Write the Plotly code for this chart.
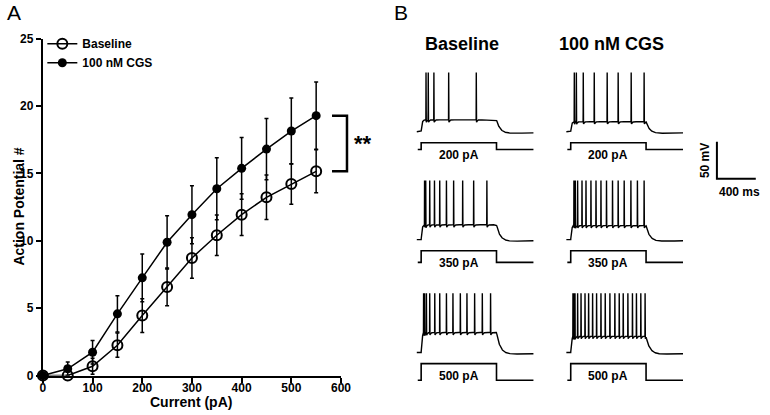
import numpy as np
import plotly.graph_objects as go

W, H = 770, 415

# ---------------- Panel A data ----------------
current_pA = [0, 50, 100, 150, 200, 250, 300, 350, 400, 450, 500, 550]
baseline_ap = [0, 0, 0.69, 2.25, 4.45, 6.58, 8.73, 10.41, 11.94, 13.23, 14.22, 15.16]
baseline_sem = [0, 0, 0.6, 0.9, 1.25, 1.4, 1.5, 1.5, 1.55, 1.65, 1.5, 1.6]
cgs_ap = [0, 0.5, 1.73, 4.58, 7.25, 9.89, 11.94, 13.87, 15.38, 16.81, 18.15, 19.29]
cgs_sem = [0, 0.5, 0.87, 1.35, 1.78, 1.98, 2.15, 2.3, 2.3, 2.28, 2.45, 2.5]
series_names = ["Baseline", "100 nM CGS"]
x_ticks = [0, 100, 200, 300, 400, 500, 600]
y_ticks = [0, 5, 10, 15, 20, 25]

# ---------------- Panel B data ----------------
column_titles = ["Baseline", "100 nM CGS"]
step_labels = ["200 pA", "350 pA", "500 pA"]
step_pA = [200, 350, 500]
spikes_baseline_ms = [
    [95, 118, 176, 328, 612],
    [80, 92, 133, 182, 236, 305, 379, 472, 585, 721],
    [70, 80, 99, 133, 185, 236, 305, 372, 448, 516, 595, 674, 759],
]
spikes_cgs_ms = [
    [82, 103, 174, 287, 420, 533, 667, 800],
    [78, 92, 116, 161, 202, 253, 305, 356, 413, 475, 533, 595, 664, 731, 800],
    [68, 78, 89, 116, 151, 192, 229, 270, 311, 356, 400, 448, 499, 544, 585,
     633, 680, 721, 766, 810],
]
plateau_baseline_mV = [16, 20, 27]
plateau_cgs_mV = [13.5, 19, 22]
scale_mV = 50
scale_ms = 400

# ---------------- geometry (target pixel positions) ----------------
SX, OX = 0.986, 2.0
SY, OY = 0.967, 6.2


def X(p):   # target pixel column -> layout pixel column
    return (p - OX) / SX


def Y(p):   # target pixel row -> layout pixel row
    return (p - OY) / SY


def px(p):
    return X(p) / W


def py(p):
    return 1 - Y(p) / H


A_X0, A_X1 = 42, 341        # pixel columns of x=0 and x=600
A_Y0, A_Y1 = 375, 38        # pixel rows of y=0 and y=25
K = 400 / 39.0              # ms per pixel in panel B
MVPX = 1.35                 # mV per pixel in panel B
REST = -70.0
T_ON, T_OFF, T_END = 45, 820, 1200
COL_OFF = 150 * K
ROW_OFF = [0, -108 * MVPX, -221 * MVPX]
B_X_START = 417             # pixel column of t=0 of first column
B_Y_REST = 131              # pixel row of rest potential of first row


def ypx_a(v):
    return A_Y0 - v / 25.0 * (A_Y0 - A_Y1)


FONT = "Liberation Sans"
fig = go.Figure()

fig.add_trace(go.Scatter(
    x=current_pA, y=cgs_ap, name=series_names[1], mode="lines+markers",
    line=dict(color="black", width=1.5),
    marker=dict(symbol="circle", size=9, color="black"),
    error_y=dict(type="data", array=cgs_sem, color="black", thickness=1.5, width=2),
    cliponaxis=False, xaxis="x", yaxis="y"))
fig.add_trace(go.Scatter(
    x=current_pA, y=baseline_ap, name=series_names[0], mode="lines+markers",
    line=dict(color="black", width=1.5),
    marker=dict(symbol="circle-open", size=10, color="black", line=dict(width=2)),
    error_y=dict(type="data", array=baseline_sem, color="black", thickness=1.5, width=2),
    cliponaxis=False, xaxis="x", yaxis="y"))

# ---------------- Panel B traces ----------------
t = np.arange(0, T_END + 0.5, 0.5)


def voltage(spikes, plateau):
    v = np.full_like(t, REST, dtype=float)
    m = (t >= T_ON) & (t < T_OFF)
    v[m] = REST + plateau * (1 - np.exp(-(t[m] - T_ON) / 8.0))
    v_off = REST + plateau
    a = t >= T_OFF
    d = t[a] - T_OFF
    v[a] = REST + (v_off - REST) * np.exp(-d / 40.0) - 3 * (1 - np.exp(-d / 30.0)) * np.exp(-d / 600.0)
    for ts in spikes:
        base = np.interp(ts, t, v)
        v = v + (REST + 80 - base) * np.exp(-((t - ts) / 0.8) ** 2)
        dd = np.clip(t - ts, 0, None)
        v = v - np.where(t > ts, 5 * (1 - np.exp(-dd / 1.0)) * np.exp(-dd / 7.0), 0)
    return v


for col, (spk_set, plat_set) in enumerate([(spikes_baseline_ms, plateau_baseline_mV),
                                           (spikes_cgs_ms, plateau_cgs_mV)]):
    for row in range(3):
        xo = col * COL_OFF
        yo = ROW_OFF[row]
        v = voltage(spk_set[row], plat_set[row])
        fig.add_trace(go.Scatter(x=t + xo, y=v + yo, mode="lines",
                                 line=dict(color="black", width=1.4),
                                 showlegend=False, hoverinfo="skip",
                                 xaxis="x2", yaxis="y2"))
        hi = REST - 15
        lo = hi - step_pA[row] * 0.045
        tc = np.array([10, T_ON, T_ON, T_OFF, T_OFF, T_END])
        ic = np.array([lo, lo, hi, hi, lo, lo])
        fig.add_trace(go.Scatter(x=tc + xo, y=ic + yo, mode="lines",
                                 line=dict(color="black", width=1.6),
                                 showlegend=False, hoverinfo="skip",
                                 xaxis="x2", yaxis="y2"))
        fig.add_annotation(x=xo + (T_ON + T_OFF) / 2, y=yo + REST - 32,
                           xref="x2", yref="y2", text=step_labels[row], showarrow=False,
                           font=dict(family=FONT, size=12, color="black", weight="bold"))

# scale bar
sx = (718 - B_X_START) * K
sy = REST - (178 - B_Y_REST) * MVPX
fig.add_trace(go.Scatter(x=[sx, sx, sx + scale_ms], y=[sy + scale_mV, sy, sy], mode="lines",
                         line=dict(color="black", width=2), showlegend=False, hoverinfo="skip",
                         xaxis="x2", yaxis="y2"))
fig.add_annotation(x=sx - 12 * K, y=sy + scale_mV / 2, xref="x2", yref="y2",
                   text=f"{scale_mV} mV", textangle=-90, showarrow=False,
                   font=dict(family=FONT, size=12, color="black", weight="bold"))
fig.add_annotation(x=sx + 23 * K, y=sy - 13 * MVPX, xref="x2", yref="y2",
                   text=f"{scale_ms} ms", showarrow=False,
                   font=dict(family=FONT, size=12, color="black", weight="bold"))

# column titles
for cx, title in zip([462, 612], column_titles):
    fig.add_annotation(x=px(cx), y=py(43), xref="paper", yref="paper", text=title,
                       showarrow=False, xanchor="center", yanchor="middle",
                       font=dict(family=FONT, size=18, color="black", weight="bold"))

# panel letters
fig.add_annotation(x=px(4), y=py(12), xref="paper", yref="paper", text="A", showarrow=False,
                   xanchor="left", yanchor="middle", font=dict(family=FONT, size=21, color="black"))
fig.add_annotation(x=px(392), y=py(12), xref="paper", yref="paper", text="B", showarrow=False,
                   xanchor="left", yanchor="middle", font=dict(family=FONT, size=21, color="black"))

# axis titles for panel A
fig.add_annotation(x=px(18), y=py(206), xref="paper", yref="paper", text="Action Potential #",
                   textangle=-90, showarrow=False, xanchor="center", yanchor="middle",
                   font=dict(family=FONT, size=14, color="black", weight="bold"))
fig.add_annotation(x=px(191), y=1 - 408.5 / H, xref="paper", yref="paper", text="Current (pA)",
                   showarrow=False, xanchor="center", yanchor="middle", borderpad=0,
                   font=dict(family=FONT, size=14, color="black", weight="bold"))

# significance bracket
yt = py(ypx_a(cgs_ap[-1]))
yb = py(ypx_a(baseline_ap[-1]))
bx0, bx1 = px(332), px(347)
fig.add_shape(type="path", xref="paper", yref="paper",
              path=f"M {bx0},{yt} L {bx1},{yt} L {bx1},{yb} L {bx0},{yb}",
              line=dict(color="black", width=2.5))
fig.add_annotation(x=px(352), y=(yt + yb) / 2, xref="paper", yref="paper", text="**",
                   showarrow=False, xanchor="left", yanchor="middle",
                   font=dict(family=FONT, size=22, color="black", weight="bold"))

axis_common = dict(showline=True, linecolor="black", linewidth=2, ticks="outside",
                   ticklen=5, tickwidth=2, tickcolor="black", showgrid=False, zeroline=False,
                   tickfont=dict(family=FONT, size=12, color="black", weight="bold"))

fig.update_layout(
    autosize=True,
    margin=dict(l=0, r=0, t=0, b=0),
    paper_bgcolor="white", plot_bgcolor="rgba(0,0,0,0)",
    showlegend=True,
    legend=dict(x=40 / W, y=1 - 23 / H, xanchor="left", yanchor="top",
                traceorder="reversed", bgcolor="rgba(0,0,0,0)",
                font=dict(family=FONT, size=12, color="black", weight="bold"),
                tracegroupgap=0, itemwidth=30),
    xaxis=dict(domain=[px(A_X0), px(A_X1)], range=[0, 600], tickvals=x_ticks,
               anchor="y", ticklabelstandoff=-5, **axis_common),
    yaxis=dict(domain=[py(A_Y0), py(A_Y1)], range=[0, 25], tickvals=y_ticks,
               anchor="x", **axis_common),
    xaxis2=dict(domain=[0, 1], range=[(OX - B_X_START) * K, (SX * W + OX - B_X_START) * K],
                visible=False, anchor="y2"),
    yaxis2=dict(domain=[0, 1], range=[REST + (B_Y_REST - (SY * H + OY)) * MVPX,
                                      REST + (B_Y_REST - OY) * MVPX],
                visible=False, anchor="x2"),
)

post = ("document.documentElement.style.margin='0';document.body.style.margin='0';"
        "document.documentElement.style.overflow='hidden';document.body.style.overflow='hidden';"
        "var gd=document.getElementById('{plot_id}');gd.style.position='fixed';gd.style.left='0';gd.style.top='0';"
        "gd.style.width='100vw';gd.style.height='100vh';Plotly.Plots.resize(gd);")
fig.write_html("out.html", config={"displayModeBar": False, "responsive": True},
               default_width="100vw", default_height="100vh", post_script=post)
